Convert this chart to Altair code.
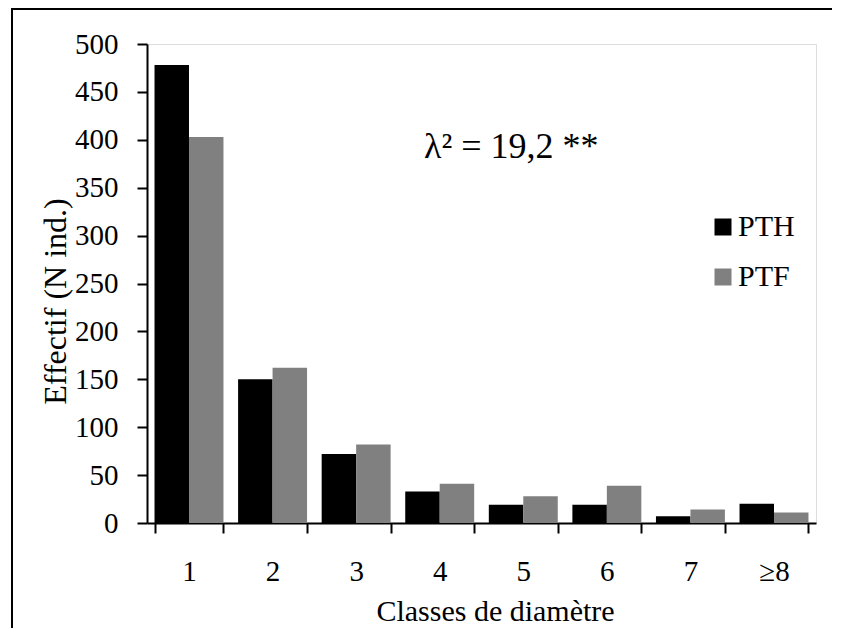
import altair as alt
import pandas as pd

classes = ["1", "2", "3", "4", "5", "6", "7", "≥8"]
pth = [478, 150, 72, 33, 19, 19, 7, 20]
ptf = [403, 162, 82, 41, 28, 39, 14, 11]
series = ["PTH", "PTF"]
colors = ["#000000", "#808080"]
y_ticks = list(range(0, 501, 50))
annotation = "λ² = 19,2 **"

rows = []
for c, a, b in zip(classes, pth, ptf):
    rows.append({"classe": c, "serie": "PTH", "effectif": a})
    rows.append({"classe": c, "serie": "PTF", "effectif": b})
df = pd.DataFrame(rows)

FONT = "Liberation Serif"
W, H = 669, 479

bars = alt.Chart(df).mark_bar(opacity=1).encode(
    x=alt.X("classe:N", sort=classes,
            scale=alt.Scale(paddingInner=0.175, paddingOuter=0.09),
            axis=alt.Axis(title="Classes de diamètre", labelAngle=0,
                          tickBand="extent", tickSize=10, tickWidth=2,
                          domainWidth=2, domainColor="black", tickColor="black",
                          labelFont=FONT, labelFontSize=29, labelColor="black",
                          labelBaseline="alphabetic", labelPadding=47,
                          titleFont=FONT, titleFontSize=30, titleFontWeight="normal",
                          titleColor="black", titleX=348, titleY=97,
                          titleBaseline="alphabetic", titleAlign="center")),
    xOffset=alt.XOffset("serie:N", sort=series, scale=alt.Scale(paddingInner=0, paddingOuter=0)),
    y=alt.Y("effectif:Q",
            scale=alt.Scale(domain=[0, 500], nice=False),
            axis=alt.Axis(title="Effectif (N ind.)", values=y_ticks, grid=False,
                          tickSize=10, tickWidth=2, domainWidth=2,
                          domainColor="black", tickColor="black",
                          labelFont=FONT, labelFontSize=29, labelColor="black",
                          labelPadding=19,
                          titleFont=FONT, titleFontSize=32, titleFontWeight="normal",
                          titleColor="black", titleX=-82, titleY=257,
                          titleBaseline="alphabetic", titleAlign="center",
                          titleAngle=270)),
    color=alt.Color("serie:N", sort=series,
                    scale=alt.Scale(domain=series, range=colors),
                    legend=alt.Legend(title=None, orient="none", legendX=561, legendY=168,
                                      symbolType="square", symbolSize=289,
                                      symbolStrokeWidth=0, symbolOpacity=1,
                                      labelFont=FONT, labelFontSize=30, labelColor="black",
                                      labelOffset=0, rowPadding=20)),
)

note = alt.Chart(alt.Data(values=[{"t": annotation}])).mark_text(
    font=FONT, fontSize=36, color="black", align="left", baseline="alphabetic"
).encode(text="t:N", x=alt.value(277), y=alt.value(114))

frame_top = alt.Chart(alt.Data(values=[{}])).mark_rule(color="black", strokeWidth=2).encode(
    x=alt.value(-135), x2=alt.value(720), y=alt.value(-35))
frame_left = alt.Chart(alt.Data(values=[{}])).mark_rule(color="black", strokeWidth=2).encode(
    x=alt.value(-135), y=alt.value(-36), y2=alt.value(600))

chart = alt.layer(bars, note, frame_top, frame_left).properties(
    width=W, height=H,
    autosize=alt.AutoSizeParams(type="none"),
    padding={"left": 139, "top": 36, "right": 16, "bottom": 105},
).configure_view(strokeWidth=0).configure(background="white", font=FONT).configure_text(font=FONT)

chart.save("out.html", embed_options={"renderer": "svg", "actions": False})
